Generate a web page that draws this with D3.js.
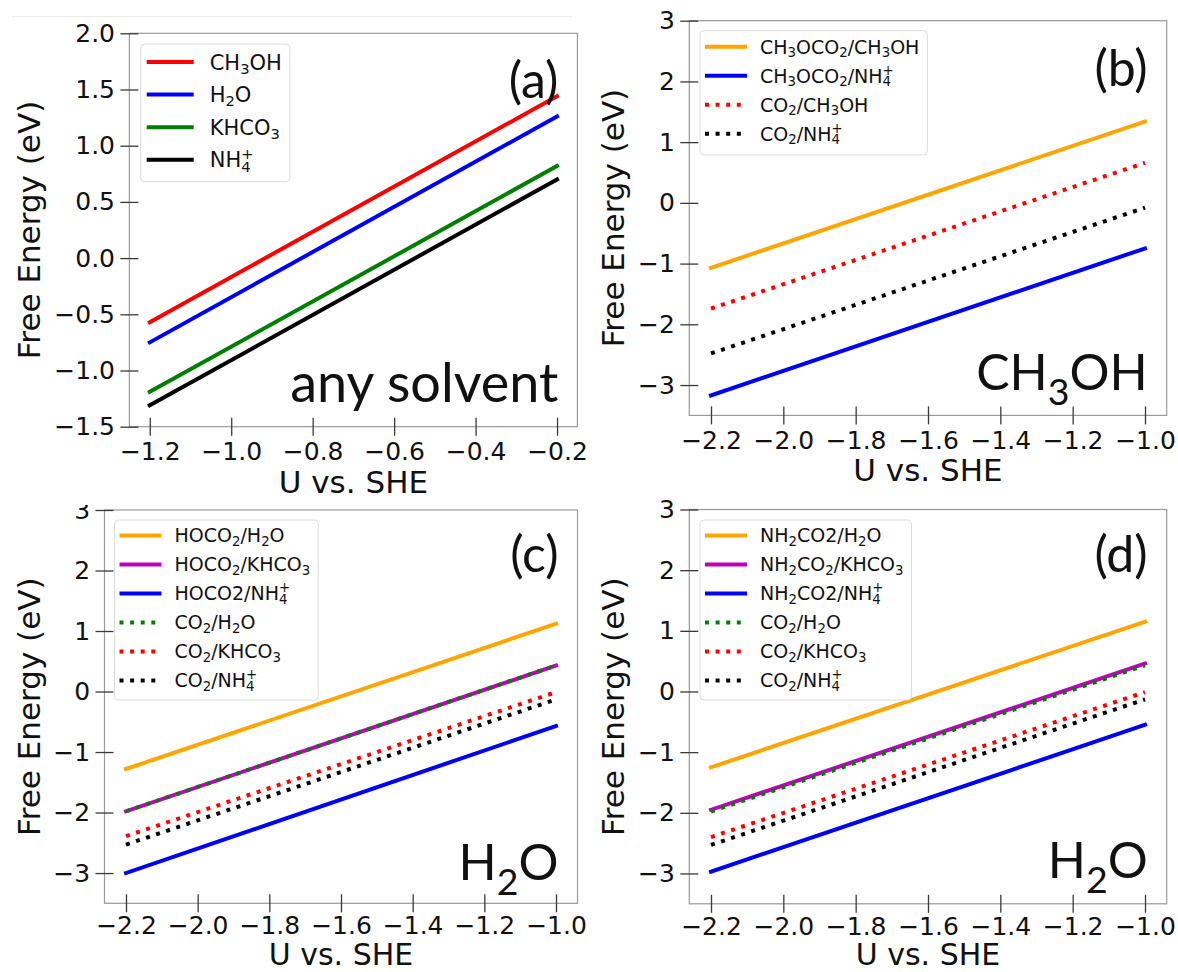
<!DOCTYPE html>
<html>
<head>
<meta charset="utf-8">
<script src="https://cdn.jsdelivr.net/npm/d3@7"></script>
<style>
  body { margin: 0; background: #fff; }
  svg { display: block; }
</style>
</head>
<body>
<svg id="fig" width="1178" height="972"></svg>
<script>
// ---- potentials (U vs. SHE) at the two ends of every line ----
const uA = [-1.2, -0.2];
const uBCD = [-2.2, -1.0];

// ---- (a) any solvent ----
const aCH3OH = [-0.57, 1.44];
const aH2O   = [-0.75, 1.26];
const aKHCO3 = [-1.19, 0.82];
const aNH4   = [-1.31, 0.70];

// ---- (b) CH3OH ----
const bCH3OCO2_CH3OH = [-1.07, 1.34];
const bCH3OCO2_NH4   = [-3.17, -0.75];
const bCO2_CH3OH     = [-1.74, 0.66];
const bCO2_NH4       = [-2.48, -0.08];

// ---- (c) H2O, HOCO2 ----
const cHOCO2_H2O   = [-1.28, 1.12];
const cHOCO2_KHCO3 = [-1.98, 0.43];
const cHOCO2_NH4   = [-3.00, -0.57];
const cCO2_H2O     = [-1.98, 0.43];
const cCO2_KHCO3   = [-2.39, -0.01];
const cCO2_NH4     = [-2.53, -0.13];

// ---- (d) H2O, NH2CO2 ----
const dNH2CO2_H2O   = [-1.25, 1.15];
const dNH2CO2_KHCO3 = [-1.95, 0.46];
const dNH2CO2_NH4   = [-2.97, -0.55];
const dCO2_H2O      = [-1.98, 0.43];
const dCO2_KHCO3    = [-2.40, -0.01];
const dCO2_NH4      = [-2.53, -0.13];

// ---- ticks ----
const xTicksA = [-1.2, -1.0, -0.8, -0.6, -0.4, -0.2];
const yTicksA = [2.0, 1.5, 1.0, 0.5, 0.0, -0.5, -1.0, -1.5];
const xTicksBCD = [-2.2, -2.0, -1.8, -1.6, -1.4, -1.2, -1.0];
const yTicksBCD = [3, 2, 1, 0, -1, -2, -3];

// ---- legend labels (_x = subscript, ^x = superscript) ----
const labelsA = ["CH_3OH", "H_2O", "KHCO_3", "NH_4^+"];
const labelsB = ["CH_3OCO_2/CH_3OH", "CH_3OCO_2/NH_4^+", "CO_2/CH_3OH", "CO_2/NH_4^+"];
const labelsC = ["HOCO_2/H_2O", "HOCO_2/KHCO_3", "HOCO2/NH_4^+", "CO_2/H_2O", "CO_2/KHCO_3", "CO_2/NH_4^+"];
const labelsD = ["NH_2CO2/H_2O", "NH_2CO_2/KHCO_3", "NH_2CO2/NH_4^+", "CO_2/H_2O", "CO_2/KHCO_3", "CO_2/NH_4^+"];

const COL = { red: "#ff0000", blue: "#0000ff", green: "#008000", black: "#000000",
              orange: "#ffa500", magenta: "#bf00bf" };

const panels = [
  { id: "a", box: [129.4, 577.4, 33.3, 426.7], xDom: [-1.25, -0.15], yDom: [-1.5, 2.0],
    xTicks: xTicksA, yTicks: yTicksA, xFmt: d3.format(".1f"), yFmt: d3.format(".1f"),
    u: uA, ylabX: 40, xlabGap: 66, xlabSize: 31, xPad: 6.5,
    series: [
      { v: aCH3OH, c: COL.red,   dot: false, lab: labelsA[0] },
      { v: aH2O,   c: COL.blue,  dot: false, lab: labelsA[1] },
      { v: aKHCO3, c: COL.green, dot: false, lab: labelsA[2] },
      { v: aNH4,   c: COL.black, dot: false, lab: labelsA[3] }],
    legend: { x: 140.7, y: 44, bottom: 181.7, rowY0: 62, rowStep: 32.6, fs: 21, hx: 6, hlen: 47, tx: 69 },
    tag: "(a)", tagY: 98, note: "any solvent", noteY: 401.7, noteSize: 54 },
  { id: "b", box: [689.3, 1166.7, 20.7, 415.4], xDom: [-2.26, -0.94], yDom: [-3.5, 3],
    xTicks: xTicksBCD, yTicks: yTicksBCD, xFmt: d3.format(".1f"), yFmt: d3.format("d"),
    u: uBCD, ylabX: 624, xlabGap: 66, xlabSize: 31, xPad: 6.5,
    series: [
      { v: bCH3OCO2_CH3OH, c: COL.orange, dot: false, lab: labelsB[0] },
      { v: bCH3OCO2_NH4,   c: COL.blue,   dot: false, lab: labelsB[1] },
      { v: bCO2_CH3OH,     c: COL.red,    dot: true,  lab: labelsB[2] },
      { v: bCO2_NH4,       c: COL.black,  dot: true,  lab: labelsB[3] }],
    legend: { x: 700, y: 30.7, bottom: 155, rowY0: 46.7, rowStep: 29, fs: 19, hx: 5, hlen: 42, tx: 60 },
    tag: "(b)", tagY: 86, note: "CH_3OH", noteY: 390, noteSize: 50 },
  { id: "c", box: [104.5, 577.5, 510, 903.3], xDom: [-2.26, -0.94], yDom: [-3.5, 3],
    xTicks: xTicksBCD, yTicks: yTicksBCD, xFmt: d3.format(".1f"), yFmt: d3.format("d"),
    u: uBCD, ylabX: 40, xlabGap: 61.5, xlabSize: 30, xPad: 4, clipTop: 505,
    series: [
      { v: cHOCO2_H2O,   c: COL.orange,  dot: false, lab: labelsC[0] },
      { v: cHOCO2_KHCO3, c: COL.magenta, dot: false, lab: labelsC[1] },
      { v: cHOCO2_NH4,   c: COL.blue,    dot: false, lab: labelsC[2] },
      { v: cCO2_H2O,     c: COL.green,   dot: true,  lab: labelsC[3] },
      { v: cCO2_KHCO3,   c: COL.red,     dot: true,  lab: labelsC[4] },
      { v: cCO2_NH4,     c: COL.black,   dot: true,  lab: labelsC[5] }],
    legend: { x: 114.5, y: 520, bottom: 700, rowY0: 535.5, rowStep: 29, fs: 19, hx: 5, hlen: 42, tx: 60 },
    tag: "(c)", tagY: 572, note: "H_2O", noteY: 880, noteSize: 50 },
  { id: "d", box: [689.3, 1166.7, 509.5, 903.8], xDom: [-2.26, -0.94], yDom: [-3.5, 3],
    xTicks: xTicksBCD, yTicks: yTicksBCD, xFmt: d3.format(".1f"), yFmt: d3.format("d"),
    u: uBCD, ylabX: 624, xlabGap: 61, xlabSize: 30, xPad: 4,
    series: [
      { v: dNH2CO2_H2O,   c: COL.orange,  dot: false, lab: labelsD[0] },
      { v: dNH2CO2_KHCO3, c: COL.magenta, dot: false, lab: labelsD[1] },
      { v: dNH2CO2_NH4,   c: COL.blue,    dot: false, lab: labelsD[2] },
      { v: dCO2_H2O,      c: COL.green,   dot: true,  lab: labelsD[3] },
      { v: dCO2_KHCO3,    c: COL.red,     dot: true,  lab: labelsD[4] },
      { v: dCO2_NH4,      c: COL.black,   dot: true,  lab: labelsD[5] }],
    legend: { x: 700, y: 520, bottom: 700, rowY0: 535.5, rowStep: 29, fs: 19, hx: 5, hlen: 42, tx: 60 },
    tag: "(d)", tagY: 572, note: "H_2O", noteY: 878, noteSize: 50 }
];

const svg = d3.select("#fig");
const TICK_FONT = "DejaVu Sans";
const NOTE_FONT = "Lato";
const LW = 4;

// Writes a label with _sub and ^sup markup into a <text> as tspans.
function rich(text, spec, fs, opt) {
  const o = Object.assign({ scale: 0.7, drop: 0.2, rise: 0.42 }, opt || {});
  const segs = [];
  let buf = "";
  for (let i = 0; i < spec.length; i++) {
    const ch = spec[i];
    if ((ch === "_" || ch === "^") && i + 1 < spec.length) {
      if (buf) { segs.push({ t: buf, k: "n" }); buf = ""; }
      const prev = segs[segs.length - 1];
      const stack = ch === "^" && prev && prev.k === "sub" && i >= 2 && spec[i - 2] === "_";
      segs.push({ t: spec[i + 1], k: ch === "_" ? "sub" : "sup", stack });
      i++;
    } else buf += ch;
  }
  if (buf) segs.push({ t: buf, k: "n" });
  let cur = 0, lastSpan = null;
  segs.forEach(s => {
    const target = s.k === "n" ? 0 : (s.k === "sub" ? o.drop * fs : -o.rise * fs);
    const sp = text.append("tspan").text(s.t)
      .attr("font-size", s.k === "n" ? fs : fs * o.scale)
      .attr("dy", target - cur);
    if (s.stack && lastSpan) sp.attr("dx", -lastSpan.node().getComputedTextLength());
    cur = target;
    lastSpan = sp;
  });
}

// faint edge line along the top of the left column
svg.append("line").attr("x1", 12).attr("x2", 572).attr("y1", 16.7).attr("y2", 16.7)
  .attr("stroke", "#ececec").attr("stroke-width", 1.2);

panels.forEach(p => {
  const [L, R, T, B] = p.box;
  const g = svg.append("g");
  if (p.clipTop !== undefined) {
    const cid = "clip-" + p.id;
    svg.append("clipPath").attr("id", cid).append("rect")
      .attr("x", 0).attr("y", p.clipTop).attr("width", 600).attr("height", 972 - p.clipTop);
    g.attr("clip-path", `url(#${cid})`);
  }
  const x = d3.scaleLinear().domain(p.xDom).range([L, R]);
  const y = d3.scaleLinear().domain(p.yDom).range([B, T]);

  // data lines
  const plotClip = "plot-" + p.id;
  svg.append("clipPath").attr("id", plotClip).append("rect")
    .attr("x", L).attr("y", T).attr("width", R - L).attr("height", B - T);
  const lines = g.append("g").attr("clip-path", `url(#${plotClip})`);
  const lineGen = d3.line().x(d => x(d[0])).y(d => y(d[1]));
  p.series.forEach(s => {
    const pts = p.u.map((u, i) => [u, s.v[i]]);
    lines.append("path").attr("d", lineGen(pts))
      .attr("fill", "none").attr("stroke", s.c).attr("stroke-width", LW)
      .attr("stroke-linecap", s.dot ? "butt" : "square")
      .attr("stroke-dasharray", s.dot ? "4,6.6" : null);
  });

  // frame
  g.append("rect").attr("x", L).attr("y", T).attr("width", R - L).attr("height", B - T)
    .attr("fill", "none").attr("stroke", "#9a9a9a").attr("stroke-width", 1.2);

  // axes with ticks crossing the frame
  const xAxis = d3.axisBottom(x).tickValues(p.xTicks).tickFormat(p.xFmt)
    .tickSizeInner(9).tickSizeOuter(0).tickPadding(p.xPad);
  const gx = g.append("g").attr("transform", `translate(0,${B})`).call(xAxis);
  const yAxis = d3.axisLeft(y).tickValues(p.yTicks).tickFormat(p.yFmt)
    .tickSizeInner(9).tickSizeOuter(0).tickPadding(5.4);
  const gy = g.append("g").attr("transform", `translate(${L},0)`).call(yAxis);
  [gx, gy].forEach(ax => {
    ax.select(".domain").remove();
    ax.attr("font-family", TICK_FONT).attr("font-size", 25);
    ax.selectAll(".tick text").attr("fill", "#111");
    ax.selectAll(".tick line").attr("stroke", "#3a3a3a").attr("stroke-width", 1.3);
  });
  gx.selectAll(".tick line").attr("y1", -9);
  gy.selectAll(".tick line").attr("x1", 9);

  // axis titles
  g.append("text").attr("x", (L + R) / 2).attr("y", B + p.xlabGap)
    .attr("text-anchor", "middle").attr("font-family", TICK_FONT).attr("font-size", p.xlabSize)
    .attr("fill", "#111").text("U vs. SHE");
  g.append("text").attr("transform", `translate(${p.ylabX},${(T + B) / 2}) rotate(-90)`)
    .attr("text-anchor", "middle").attr("font-family", TICK_FONT).attr("font-size", 31)
    .attr("fill", "#111").text("Free Energy (eV)");

  // legend
  const lg = p.legend;
  const box = g.append("rect").attr("x", lg.x).attr("y", lg.y).attr("rx", 4).attr("ry", 4)
    .attr("fill", "#fff").attr("fill-opacity", 0.85)
    .attr("stroke", "#dcdcdc").attr("stroke-width", 1);
  let maxRight = 0;
  p.series.forEach((s, i) => {
    const ry = lg.rowY0 + i * lg.rowStep;
    g.append("line").attr("x1", lg.x + lg.hx).attr("x2", lg.x + lg.hx + lg.hlen)
      .attr("y1", ry).attr("y2", ry).attr("stroke", s.c).attr("stroke-width", LW)
      .attr("stroke-dasharray", s.dot ? "4,6.6" : null);
    const t = g.append("text").attr("x", lg.x + lg.tx).attr("y", ry + 0.36 * lg.fs)
      .attr("font-family", TICK_FONT).attr("fill", "#111");
    rich(t, s.lab, lg.fs);
    const bb = t.node().getBBox();
    maxRight = Math.max(maxRight, bb.x + bb.width);
  });
  box.attr("width", maxRight + 8 - lg.x).attr("height", lg.bottom - lg.y);

  // panel tag and solvent note
  g.append("text").attr("x", R - 19).attr("y", p.tagY).attr("text-anchor", "end")
    .attr("font-family", NOTE_FONT).attr("font-size", 50).attr("fill", "#111").text(p.tag);
  const nt = g.append("text").attr("x", R - 19).attr("y", p.noteY).attr("text-anchor", "end")
    .attr("font-family", NOTE_FONT).attr("fill", "#111");
  rich(nt, p.note, p.noteSize, { scale: 0.75, drop: 0.3 });
});
</script>
</body>
</html>
